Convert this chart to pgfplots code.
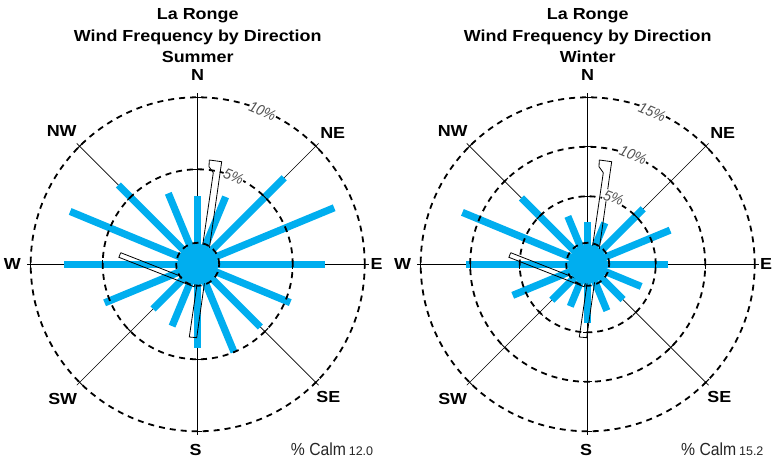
\documentclass[border=0pt]{standalone}
\usepackage{graphicx}
\usepackage{fontspec}
\setmainfont{Liberation Sans}
\usepackage{pgfplots}
\pgfplotsset{compat=1.18}
\usepackage{pgfplotstable}
\usetikzlibrary{calc}
\definecolor{windblue}{RGB}{0,174,239}
\definecolor{ringgray}{RGB}{80,80,80}
\newcommand\hb[1]{\scalebox{1.12}[1]{\fontsize{16}{19}\selectfont\bfseries #1}}
\newcommand\rl[1]{\scalebox{0.92}[1]{\fontsize{15}{17}\selectfont\itshape #1}}

% direction: degrees clockwise from North; pct: frequency (%)
\pgfplotstableread{
dir pct
0 3.15
22.5 3.47
45 6.90
67.5 8.66
90 7.24
112.5 5.36
135 4.56
157.5 5.00
180 4.19
202.5 3.05
225 2.79
247.5 5.40
270 7.66
292.5 7.99
315 6.19
337.5 3.74
}\summer
\pgfplotstableread{
dir pct
0 2.44
22.5 2.66
45 6.06
67.5 7.14
90 6.21
112.5 3.98
135 3.18
157.5 3.20
180 4.09
202.5 2.73
225 3.25
247.5 6.33
270 10.42
292.5 11.83
315 7.61
337.5 3.37
}\winter
% runway outlines (pt, relative to rose centre)
\pgfplotstableread{
x y
11.6 104.3
24 102.6
22.3 91
-1 -73.4
-8.4 -72.7
15.6 91.6
11.3 97.6
11.6 104.3
}\runwayA
\pgfplotstableread{
x y
-77 11.6
-1.8 -17.9
-3.6 -22.5
-78.8 7
-77 11.6
}\runwayB

\tikzset{
  ring/.style={line width=1.8pt, dash pattern=on 6pt off 5pt},
  spoke/.style={line width=0.7pt},
  rlabel/.style={text=ringgray, fill=white, inner sep=0.5pt},
  dlabel/.style={inner sep=0pt, anchor=center},
}

\begin{document}
\begin{tikzpicture}[x=1pt,y=1pt]
% spokes
\foreach \cx in {197.7,587.7}{
  \foreach \a in {0,45,...,315}{
    \draw[spoke] (\cx,198.7) -- ++(\a:171);
  }
}
\begin{axis}[x=1pt,y=1pt,xmin=0,xmax=772,ymin=0,ymax=463,
  hide axis, clip=false, enlargelimits=false,
  at={(0,0)}, anchor=south west]
% summer
\addplot[windblue, only marks, mark=*, mark size=20pt] coordinates {(197.7,198.7)};
\addplot[windblue, line width=7.2pt,
  quiver={u={sin(\thisrow{dir})*(23+14.4*\thisrow{pct})},
          v={cos(\thisrow{dir})*(23+14.4*\thisrow{pct})}}]
  table[x expr=197.7, y expr=198.7] {\summer};
\addplot[black, line width=0.8pt, line join=miter] table[x expr=\thisrow{x}+197.7, y expr=\thisrow{y}+198.7] {\runwayA};
\addplot[black, line width=0.8pt, line join=miter] table[x expr=\thisrow{x}+197.7, y expr=\thisrow{y}+198.7] {\runwayB};
% winter
\addplot[windblue, only marks, mark=*, mark size=19pt] coordinates {(587.7,198.7)};
\addplot[windblue, line width=7.2pt,
  quiver={u={sin(\thisrow{dir})*(18.5+9.9*\thisrow{pct})},
          v={cos(\thisrow{dir})*(18.5+9.9*\thisrow{pct})}}]
  table[x expr=587.7, y expr=198.7] {\winter};
\addplot[black, line width=0.8pt, line join=miter] table[x expr=\thisrow{x}+587.7, y expr=\thisrow{y}+198.7] {\runwayA};
\addplot[black, line width=0.8pt, line join=miter] table[x expr=\thisrow{x}+587.7, y expr=\thisrow{y}+198.7] {\runwayB};
\end{axis}
% rings and ticks
\foreach \r in {21.5,95,167}{\draw[ring] (197.7,198.7) circle[radius=\r];}
\foreach \r in {21.5,68,117.5,167}{\draw[ring] (587.7,198.7) circle[radius=\r];}
\foreach \a in {0,45,...,315}{
  \foreach \r in {95,167}{
    \draw[line width=1pt] ([shift={(\a:\r)}]197.7,198.7) ++(\a+90:4.5) -- ++(\a-90:9);
  }
  \foreach \r in {68,117.5,167}{
    \draw[line width=1pt] ([shift={(\a:\r)}]587.7,198.7) ++(\a+90:4.5) -- ++(\a-90:9);
  }
}
% ring labels
\node[rlabel, rotate=-23] at (262.6,351.5) {\rl{10\%}};
\node[rlabel, rotate=-22] at (233.6,286.5) {\rl{5\%}};
\node[rlabel, rotate=-23] at (652.2,350.6) {\rl{15\%}};
\node[rlabel, rotate=-22.5] at (633.2,307.8) {\rl{10\%}};
\node[rlabel, rotate=-21] at (613.5,265.2) {\rl{5\%}};
% titles
\foreach \cx/\season in {197.7/Summer, 587.7/Winter}{
  \node[anchor=base, inner sep=0pt] at (\cx,443.3) {\hb{La Ronge}};
  \node[anchor=base, inner sep=0pt] at (\cx,421.5) {\hb{Wind Frequency by Direction}};
  \node[anchor=base, inner sep=0pt] at (\cx,400.3) {\hb{\season}};
}
% direction labels
\node[dlabel] at (197.7,388) {\hb{N}};
\node[dlabel] at (332.7,330.3) {\hb{NE}};
\node[dlabel] at (376.7,198.7) {\hb{E}};
\node[dlabel] at (328.3,66.3) {\hb{SE}};
\node[dlabel] at (195.7,13) {\hb{S}};
\node[dlabel] at (62.7,63.7) {\hb{SW}};
\node[dlabel] at (12.3,198.7) {\hb{W}};
\node[dlabel] at (61.7,332.3) {\hb{NW}};
\node[dlabel] at (587.7,388) {\hb{N}};
\node[dlabel] at (722.7,330.3) {\hb{NE}};
\node[dlabel] at (766,198.7) {\hb{E}};
\node[dlabel] at (719.3,66.3) {\hb{SE}};
\node[dlabel] at (586,13) {\hb{S}};
\node[dlabel] at (452.7,63.7) {\hb{SW}};
\node[dlabel] at (402.7,198.7) {\hb{W}};
\node[dlabel] at (452.7,332.3) {\hb{NW}};
% calm
\node[anchor=base west, inner sep=0pt, text=black!85] at (290.7,7.3) {\scalebox{0.9}[1]{\fontsize{17.5}{19}\selectfont\% Calm} \fontsize{12.5}{14}\selectfont 12.0};
\node[anchor=base west, inner sep=0pt, text=black!85] at (681,7.3) {\scalebox{0.9}[1]{\fontsize{17.5}{19}\selectfont\% Calm} \fontsize{12.5}{14}\selectfont 15.2};
\pgfresetboundingbox
\path (0,0) rectangle (772,463);
\end{tikzpicture}
\end{document}
